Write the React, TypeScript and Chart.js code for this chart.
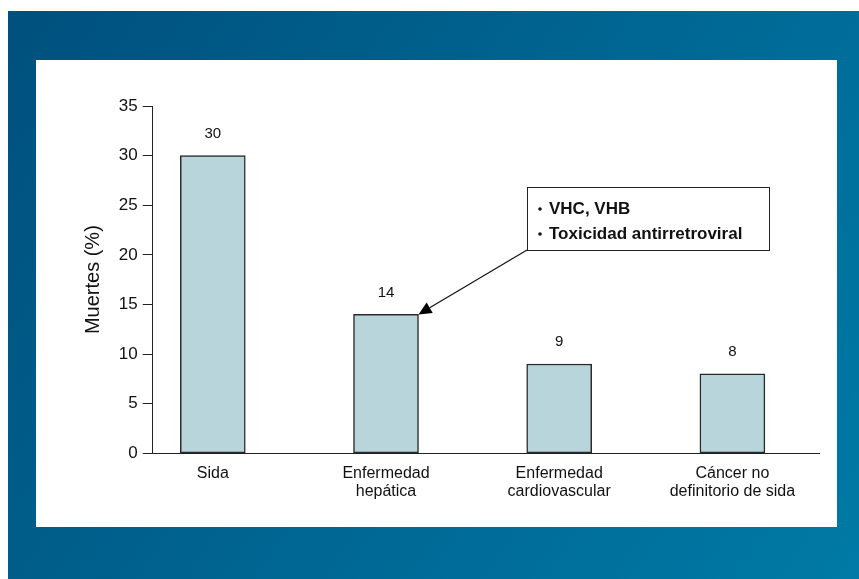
import React, { useEffect, useRef } from "react";
import { Chart, registerables } from "chart.js";

Chart.register(...registerables);

const categories: string[][] = [
  ["Sida"],
  ["Enfermedad", "hepática"],
  ["Enfermedad", "cardiovascular"],
  ["Cáncer no", "definitorio de sida"],
];
const values: number[] = [30, 14, 9, 8];
const yTicks: number[] = [0, 5, 10, 15, 20, 25, 30, 35];
const yTitle = "Muertes (%)";
const noteLines: string[] = ["VHC, VHB", "Toxicidad antirretroviral"];
const noteTargetIndex = 1;

const FONT = "'Liberation Sans', Arial, Helvetica, sans-serif";

const decorPlugin = {
  id: "decor",
  beforeDraw(chart: any) {
    const ctx = chart.ctx;
    const W = chart.width;
    const H = chart.height;
    ctx.save();
    ctx.fillStyle = "#ffffff";
    ctx.fillRect(0, 0, W, H);
    const g = ctx.createLinearGradient(8, 11, W, H);
    g.addColorStop(0, "#00507d");
    g.addColorStop(1, "#007aa6");
    ctx.fillStyle = g;
    ctx.fillRect(8, 11, W - 8, H - 11);
    ctx.fillStyle = "#ffffff";
    ctx.fillRect(36, 60, 801, 467);
    ctx.restore();
  },
  afterDatasetsDraw(chart: any) {
    const ctx = chart.ctx;
    const meta = chart.getDatasetMeta(0);
    ctx.save();
    ctx.fillStyle = "#111111";
    ctx.font = `15px ${FONT}`;
    ctx.textAlign = "center";
    ctx.textBaseline = "middle";
    meta.data.forEach((el: any, i: number) => {
      ctx.fillText(String(values[i]), el.x, el.y - 22);
    });
    ctx.restore();
  },
  afterDraw(chart: any) {
    const ctx = chart.ctx;
    const area = chart.chartArea;
    ctx.save();
    ctx.translate(93, (area.top + area.bottom) / 2);
    ctx.rotate(-Math.PI / 2);
    ctx.fillStyle = "#111111";
    ctx.font = `20px ${FONT}`;
    ctx.textAlign = "center";
    ctx.textBaseline = "middle";
    ctx.fillText(yTitle, 0, 0);
    ctx.restore();

    const bx = 527, by = 187, bw = 242, bh = 63;
    ctx.save();
    ctx.fillStyle = "#ffffff";
    ctx.fillRect(bx, by, bw, bh);
    ctx.strokeStyle = "#222222";
    ctx.lineWidth = 1;
    ctx.strokeRect(bx + 0.5, by + 0.5, bw, bh);
    ctx.fillStyle = "#111111";
    ctx.font = `bold 17px ${FONT}`;
    ctx.textBaseline = "middle";
    ctx.textAlign = "left";
    noteLines.forEach((t, i) => {
      const y = 209 + i * 25;
      ctx.beginPath();
      ctx.arc(540, y, 1.8, 0, Math.PI * 2);
      ctx.fill();
      ctx.fillText(t, 549, y);
    });
    const el: any = chart.getDatasetMeta(0).data[noteTargetIndex];
    const tx = el.x + el.width / 2;
    const ty = el.y;
    const sx = bx, sy = by + bh;
    const ang = Math.atan2(ty - sy, tx - sx);
    const hl = 13, hw = 6;
    const bxp = tx - hl * Math.cos(ang);
    const byp = ty - hl * Math.sin(ang);
    ctx.strokeStyle = "#111111";
    ctx.lineWidth = 1.2;
    ctx.beginPath();
    ctx.moveTo(sx, sy);
    ctx.lineTo(bxp, byp);
    ctx.stroke();
    ctx.beginPath();
    ctx.moveTo(tx, ty);
    ctx.lineTo(bxp + hw * Math.sin(ang), byp - hw * Math.cos(ang));
    ctx.lineTo(bxp - hw * Math.sin(ang), byp + hw * Math.cos(ang));
    ctx.closePath();
    ctx.fillStyle = "#000000";
    ctx.fill();
    ctx.restore();
  },
};

export default function App() {
  const ref = useRef<HTMLCanvasElement | null>(null);
  useEffect(() => {
    if (!ref.current) return;
    const chart = new Chart(ref.current, {
      type: "bar",
      data: {
        datasets: [
          {
            data: categories.map((_, i) => ({ x: i, y: values[i] })),
            backgroundColor: "#b8d5db",
            borderColor: "#2a2a2a",
            borderWidth: 1.5,
            borderSkipped: false,
            barThickness: 65,
          },
        ],
      },
      options: {
        responsive: false,
        animation: false,
        events: [],
        layout: { padding: { left: 92.7, right: 40, top: 106, bottom: 55.7 } },
        plugins: { legend: { display: false }, tooltip: { enabled: false } },
        scales: {
          x: {
            type: "linear",
            offset: false,
            bounds: "ticks",
            min: -0.347,
            max: 3.5,
            afterBuildTicks: (scale: any) => {
              scale.ticks = categories.map((_, i) => ({ value: i }));
            },
            afterFit: (scale: any) => {
              scale.height = 70;
            },
            grid: { display: false, drawTicks: false, offset: false },
            border: { display: true, color: "#222222", width: 1 },
            ticks: {
              autoSkip: false,
              maxRotation: 0,
              padding: 11,
              color: "#111111",
              font: { family: FONT, size: 16, lineHeight: 1.15 },
              callback: (v: any) => categories[Number(v)] ?? "",
            },
          },
          y: {
            min: 0,
            max: 35,
            afterBuildTicks: (scale: any) => {
              scale.ticks = yTicks.map((v) => ({ value: v }));
            },
            afterFit: (scale: any) => {
              scale.width = 60;
            },
            grid: {
              drawOnChartArea: false,
              drawTicks: true,
              tickLength: 10,
              color: "#222222",
              lineWidth: 1,
            },
            border: { display: true, color: "#222222", width: 1 },
            ticks: {
              padding: 5,
              color: "#111111",
              font: { family: FONT, size: 17 },
            },
          },
        },
      },
      plugins: [decorPlugin],
    } as any);
    return () => chart.destroy();
  }, []);
  return (
    <div style={{ position: "fixed", left: 0, top: 0, width: 859, height: 579 }}>
      <canvas ref={ref} width={859} height={579} style={{ width: 859, height: 579, display: "block" }} />
    </div>
  );
}
